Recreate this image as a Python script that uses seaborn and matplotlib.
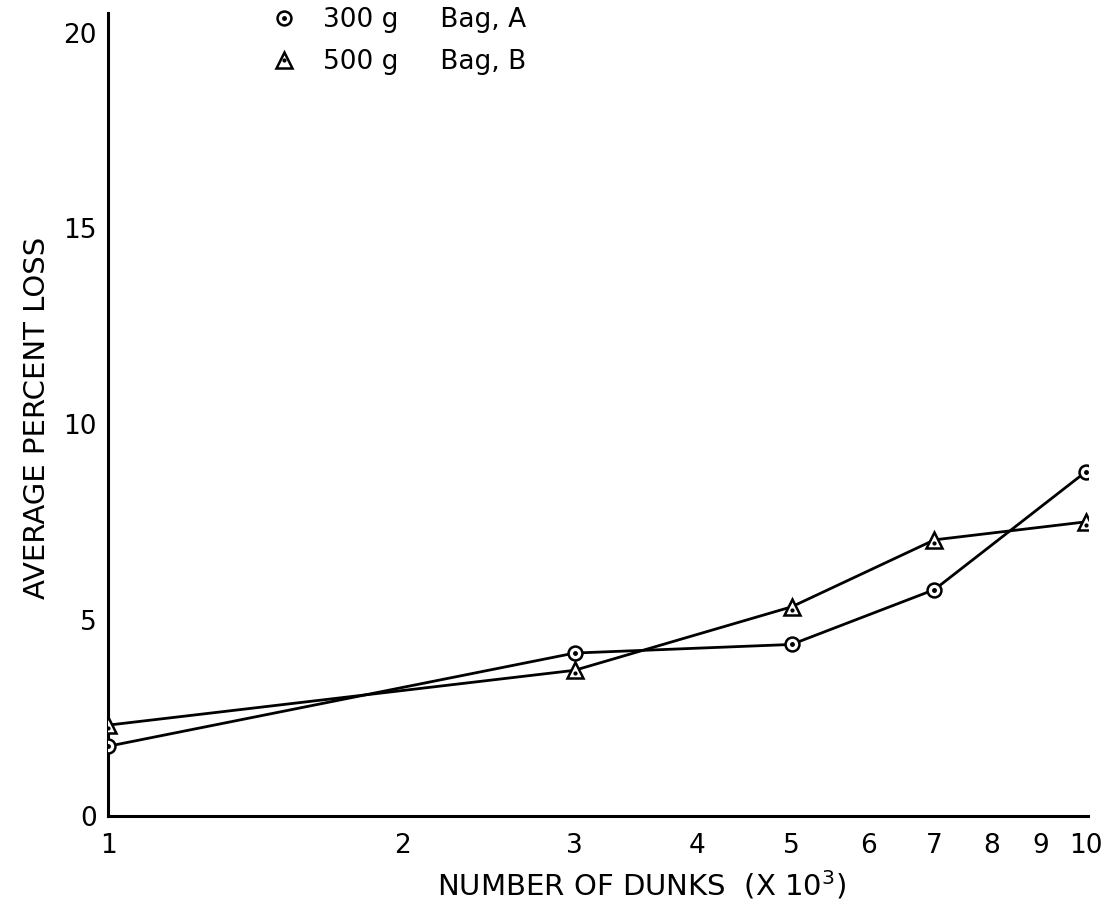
import matplotlib
matplotlib.use("Agg")
import matplotlib.pyplot as plt
import seaborn as sns
import pandas as pd
from matplotlib.ticker import FixedLocator, NullLocator
from matplotlib.lines import Line2D

# ---- data ----
dunks = [1, 3, 5, 7, 10]
bag_a_300g = [1.78, 4.16, 4.38, 5.78, 8.79]
bag_b_500g = [2.32, 3.72, 5.34, 7.05, 7.51]
series_labels = ["300 g     Bag, A", "500 g     Bag, B"]
x_ticks = [1, 2, 3, 4, 5, 6, 7, 8, 9, 10]
x_tick_labels = ["1", "2", "3", "4", "5", "6", "7", "8", "9", "10"]
y_ticks = [0, 5, 10, 15, 20]
y_tick_labels = ["0", "5", "10", "15", "20"]
x_label = r"NUMBER OF DUNKS  (X 10$^3$)"
y_label = "AVERAGE PERCENT LOSS"

sns.set_theme(style="white")
plt.rcParams["font.family"] = ["DejaVu Sans"]
plt.rcParams["text.color"] = "black"
plt.rcParams["axes.labelcolor"] = "black"

fig = plt.figure(figsize=(11.08, 9.08), dpi=100)
ax = fig.add_axes([0.0975, 0.1013, 0.8845, 0.8844])

df_a = pd.DataFrame({"x": dunks, "y": bag_a_300g})
df_b = pd.DataFrame({"x": dunks, "y": bag_b_500g})

lw = 2.0
sns.lineplot(data=df_a, x="x", y="y", ax=ax, color="black", lw=lw,
             marker="o", markersize=10, markerfacecolor="white",
             markeredgecolor="black", markeredgewidth=1.8, zorder=3)
sns.lineplot(data=df_b, x="x", y="y", ax=ax, color="black", lw=lw,
             marker="^", markersize=12, markerfacecolor="white",
             markeredgecolor="black", markeredgewidth=1.8, zorder=3)
# inner dots of the markers
ax.plot(df_a["x"], df_a["y"], ls="none", marker="o", markersize=2.5,
        color="black", zorder=4)
ax.plot(df_b["x"], df_b["y"] - 0.08, ls="none", marker="o", markersize=2.0,
        color="black", zorder=4)

ax.set_xscale("log")
ax.set_xlim(1, 10.05)
ax.set_ylim(0, 20.5)
ax.xaxis.set_major_locator(FixedLocator(x_ticks))
ax.xaxis.set_minor_locator(NullLocator())
ax.set_xticklabels(x_tick_labels)
ax.set_yticks(y_ticks)
ax.set_yticklabels(y_tick_labels)

for side in ["top", "right"]:
    ax.spines[side].set_visible(False)
for side in ["left", "bottom"]:
    ax.spines[side].set_linewidth(2.2)
    ax.spines[side].set_color("black")

ax.tick_params(axis="both", direction="in", length=15, width=1.6,
               colors="black", labelsize=19)
ax.tick_params(axis="x", pad=12)
ax.tick_params(axis="y", pad=8)

ax.set_xlabel(x_label, fontsize=21)
ax.set_ylabel(y_label, fontsize=21)
ax.xaxis.label.set_va("center")
ax.yaxis.label.set_va("center")
ax.xaxis.set_label_coords(0.544, -0.086)
ax.yaxis.set_label_coords(-0.072, 0.496)

# legend
ha = Line2D([], [], ls="none", marker="o", markersize=10, markerfacecolor="white",
            markeredgecolor="black", markeredgewidth=1.8)
hb = Line2D([], [], ls="none", marker="^", markersize=12, markerfacecolor="white",
            markeredgecolor="black", markeredgewidth=1.8)
da = Line2D([], [], ls="none", marker="o", markersize=2.5, color="black")
db = Line2D([], [], ls="none", marker="o", markersize=2.0, color="black")
leg = ax.legend([(ha, da), (hb, db)], series_labels, loc="upper left",
                bbox_to_anchor=(0.155, 1.02), frameon=False, fontsize=19,
                handlelength=1.0, handletextpad=1.0, labelspacing=0.6,
                borderaxespad=0)

fig.savefig("out.png", dpi=100, facecolor="white")
